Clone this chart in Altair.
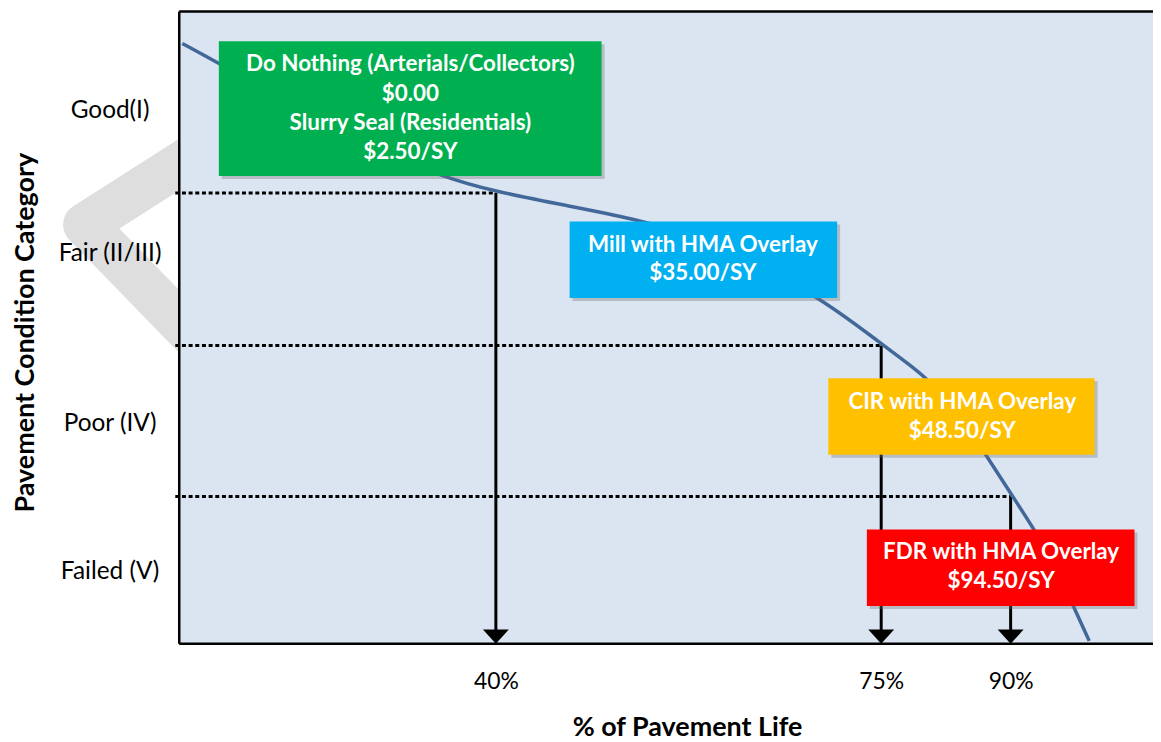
import altair as alt
import pandas as pd

# ---------------- data ----------------
# x = % of pavement life, y = condition index (0 = bottom of chart, 100 = top)
life_pct = [0.38, 5.03, 15.09, 25.16, 32.83, 40.0, 46.51, 52.57, 58.27, 63.70,
            69.57, 75.23, 77.88, 80.42, 83.88, 87.12, 90.14, 91.75, 93.15, 94.34, 95.52]
condition = [94.96, 91.81, 84.72, 78.27, 74.02, 71.50, 69.29, 67.24, 64.41, 60.00,
             54.65, 47.24, 44.57, 41.89, 36.69, 29.92, 23.31, 17.80, 12.13, 6.30, 0.47]

categories = ["Good(I)", "Fair (II/III)", "Poor (IV)", "Failed (V)"]
category_pos = [84.3, 61.7, 34.8, 11.5]

trigger_pct = [40, 75, 90]
threshold_cond = [71.3, 47.2, 23.3]

box_lines = [
    ["Do Nothing (Arterials/Collectors)", "$0.00", "Slurry Seal (Residentials)", "$2.50/SY"],
    ["Mill with HMA Overlay", "$35.00/SY"],
    ["CIR with HMA Overlay", "$48.50/SY"],
    ["FDR with HMA Overlay", "$94.50/SY"],
]
box_colors = ["#00b050", "#00b0f0", "#ffc000", "#ff0000"]
box_x0 = [5.0, 46.7, 70.2, 73.7]
box_x1 = [49.6, 71.0, 95.9, 98.7]
box_top = [95.3, 66.8, 42.0, 18.1]
box_bot = [74.0, 54.7, 29.9, 6.0]
text_x = [29.2, 58.8, 84.4, 88.9]
text_y = [[91.7, 86.9, 82.4, 77.8], [63.0, 58.6], [38.3, 33.7], [14.5, 9.9]]

# faint background watermark (chevron seen left of the plot)
wm_x = [7.5, -11.9, 7.5]
wm_y = [81.8, 66.3, 41.3]

x_domain = [0, 40, 75, 90, 100]
y_domain = [0, 100]

# ---------------- tables ----------------
curve_df = pd.DataFrame({"life": life_pct, "cond": condition})
trig_df = pd.DataFrame({"life": trigger_pct, "cond": threshold_cond,
                        "start": [x_domain[0]] * 3, "bottom": [y_domain[0]] * 3})
box_df = pd.DataFrame({"x0": box_x0, "x1": box_x1, "top": box_top,
                       "bot": box_bot, "color": box_colors})
txt_rows = []
for lines, tx, tys in zip(box_lines, text_x, text_y):
    for line, ty in zip(lines, tys):
        txt_rows.append({"life": tx, "cond": ty, "label": line})
txt_df = pd.DataFrame(txt_rows)
bg_df = pd.DataFrame({"x0": [x_domain[0]], "x1": [x_domain[-1]],
                      "y0": [y_domain[0]], "y1": [y_domain[1]]})
wm_df = pd.DataFrame({"life": wm_x, "cond": wm_y, "i": range(len(wm_x))})
border_v = pd.DataFrame({"life": [x_domain[0]], "y0": [y_domain[0]], "y1": [y_domain[1]]})
border_h = pd.DataFrame({"cond": [y_domain[0], y_domain[1]],
                         "x0": [x_domain[0]] * 2, "x1": [x_domain[-1]] * 2})

# ---------------- scales & axes ----------------
FONT = "Lato"
xscale = alt.Scale(domain=x_domain, range=[0, 318, 705, 835, 978])
yscale = alt.Scale(domain=y_domain, nice=False, zero=False)

xaxis = alt.Axis(values=trigger_pct, labelExpr="datum.value + '%'",
                 title="% of Pavement Life", grid=False, domain=False, ticks=False,
                 tickSize=0, labelPadding=27, labelFont=FONT, labelFontSize=23,
                 labelColor="black", labelFlush=False, labelOverlap=False,
                 titleFont=FONT, titleFontSize=27, titleFontWeight="bold",
                 titleColor="black", titleX=510, titleY=92, titleAlign="center",
                 titleBaseline="alphabetic", zindex=1)
label_expr = "".join(f"datum.value == {p} ? '{c}' : " for p, c in zip(category_pos, categories)) + "''"
yaxis = alt.Axis(values=category_pos, labelExpr=label_expr,
                 title="Pavement Condition Category", grid=False, domain=False,
                 ticks=False, tickSize=0, labelPadding=70, labelAlign="center",
                 labelBaseline="middle", labelFont=FONT, labelFontSize=24.5,
                 labelColor="black", labelFlush=False, labelOverlap=False,
                 titleFont=FONT, titleFontSize=27, titleFontWeight="bold",
                 titleColor="black", titleX=-154, titleY=322, titleAngle=270,
                 titleAlign="center", titleBaseline="middle", zindex=1)


def X(f):
    return alt.X(f, type="quantitative", scale=xscale, axis=xaxis)


def Y(f):
    return alt.Y(f, type="quantitative", scale=yscale, axis=yaxis)


watermark = alt.Chart(wm_df).mark_line(
    color="#dedede", strokeWidth=44, strokeJoin="round", strokeCap="butt", clip=False
).encode(x=X("life"), y=Y("cond"), order="i:Q")

background = alt.Chart(bg_df).mark_rect(color="#dbe5f1").encode(
    x=X("x0"), x2="x1", y=Y("y0"), y2="y1")

dotted = alt.Chart(trig_df).mark_rule(
    color="black", strokeWidth=3, strokeDash=[4, 2.7], xOffset=-4
).encode(x=X("start"), x2="life", y=Y("cond"))

verticals = alt.Chart(trig_df).mark_rule(
    color="black", strokeWidth=3, y2Offset=-8
).encode(x=X("life"), y=Y("cond"), y2="bottom")

arrows = alt.Chart(trig_df).mark_point(
    shape="M -1 -1.1 L 1 -1.1 L 0 0 Z", size=676, filled=True, color="black", opacity=1
).encode(x=X("life"), y=Y("bottom"))

curve = alt.Chart(curve_df).mark_line(
    color="#42689a", strokeWidth=3.5, interpolate="basis"
).encode(x=X("life"), y=Y("cond"))

shadows = alt.Chart(box_df).mark_rect(
    color="#6f6f6f", opacity=0.35, xOffset=3, x2Offset=3, yOffset=3, y2Offset=3
).encode(x=X("x0"), x2="x1", y=Y("top"), y2="bot")

boxes = alt.Chart(box_df).mark_rect().encode(
    x=X("x0"), x2="x1", y=Y("top"), y2="bot",
    color=alt.Color("color:N", scale=None))

texts = alt.Chart(txt_df).mark_text(
    font=FONT, fontSize=22.5, fontWeight="bold", color="white",
    align="center", baseline="middle"
).encode(x=X("life"), y=Y("cond"), text="label:N")

border_left = alt.Chart(border_v).mark_rule(color="black", strokeWidth=2.5).encode(
    x=X("life"), y=Y("y0"), y2="y1")
border_tb = alt.Chart(border_h).mark_rule(color="black", strokeWidth=2.5).encode(
    x=X("x0"), x2="x1", y=Y("cond"))

chart = alt.layer(
    watermark, background, dotted, verticals, arrows, curve,
    shadows, boxes, texts, border_left, border_tb
).properties(
    width=978, height=635,
    autosize=alt.AutoSizeParams(type="none"),
    padding={"left": 172, "top": 2, "right": 0, "bottom": 97},
    background="white",
).configure_view(stroke=None)

chart.save("out.html", embed_options={"renderer": "svg", "actions": False})
